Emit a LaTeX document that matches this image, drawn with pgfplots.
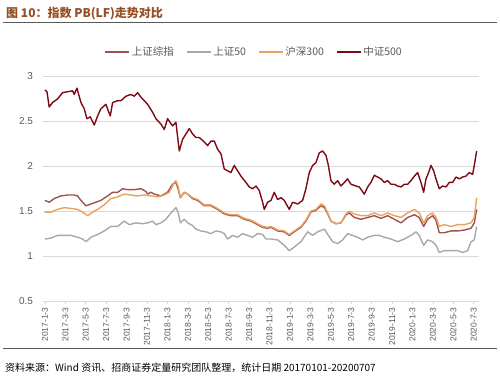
\documentclass[border=0pt]{standalone}
\usepackage{pgfplots}
\pgfplotsset{compat=1.18}
\usepackage{pgfplotstable}
\usepackage{fontspec}
\setmainfont{Liberation Sans}
\newfontfamily\cjk{Noto Sans CJK SC}
\definecolor{szzz}{RGB}{158,82,78}
\definecolor{sz50}{RGB}{168,168,168}
\definecolor{hs300}{RGB}{232,162,92}
\definecolor{zz500}{RGB}{125,10,22}
\definecolor{titlecol}{RGB}{150,78,35}
\definecolor{gridc}{RGB}{217,217,217}
\definecolor{tickc}{RGB}{89,89,89}

\pgfplotstableread{
m v
0 2.85
0.20 2.83
0.42 2.66
0.75 2.71
1.24 2.75
1.73 2.82
2.22 2.83
2.71 2.84
2.87 2.80
3.13 2.87
3.53 2.71
3.85 2.64
4.11 2.53
4.44 2.55
4.83 2.46
5.16 2.56
5.48 2.64
5.97 2.69
6.40 2.56
6.63 2.71
7.12 2.73
7.44 2.73
7.93 2.78
8.42 2.80
8.75 2.78
9.08 2.82
9.40 2.77
9.73 2.73
10.06 2.69
10.55 2.60
10.87 2.53
11.36 2.47
11.69 2.41
12.01 2.53
12.50 2.45
12.83 2.49
13.16 2.17
13.48 2.30
13.81 2.36
14.14 2.42
14.46 2.36
14.79 2.32
15.12 2.32
15.61 2.27
15.93 2.23
16.26 2.28
16.59 2.28
16.91 2.19
17.24 2.14
17.56 1.97
17.89 1.95
18.22 1.93
18.54 2.01
18.87 1.95
19.20 1.89
19.69 1.82
20.01 1.77
20.34 1.75
20.67 1.78
20.99 1.73
21.32 1.60
21.48 1.52
21.81 1.60
22.14 1.62
22.46 1.71
22.79 1.63
23.12 1.65
23.44 1.62
23.93 1.52
24.26 1.60
24.75 1.58
25.24 1.62
25.56 1.75
25.89 1.93
26.22 2.01
26.54 2.04
26.87 2.15
27.20 2.17
27.53 2.12
27.76 2.01
28.01 1.84
28.34 1.80
28.67 1.84
28.99 1.78
29.32 1.82
29.64 1.86
29.97 1.80
30.46 1.78
30.79 1.77
31.28 1.69
31.61 1.77
31.93 1.82
32.26 1.90
32.58 1.88
32.91 1.86
33.24 1.82
33.56 1.84
33.89 1.80
34.22 1.80
34.54 1.78
34.87 1.77
35.20 1.80
35.52 1.80
35.85 1.84
36.18 1.89
36.50 1.93
36.83 1.82
37.09 1.71
37.32 1.86
37.58 1.93
37.81 2.01
38.07 1.95
38.30 1.86
38.62 1.75
38.95 1.78
39.28 1.77
39.60 1.82
39.93 1.82
40.26 1.88
40.59 1.86
40.91 1.88
41.23 1.89
41.56 1.93
41.89 1.91
42.05 2.01
42.28 2.17
}\zzfive

\pgfplotstableread{
m v
0 1.62
0.42 1.60
0.91 1.64
1.57 1.67
2.22 1.68
2.87 1.68
3.20 1.67
3.53 1.62
4.02 1.56
4.51 1.58
5.00 1.60
5.48 1.62
6.14 1.67
6.63 1.71
7.12 1.71
7.61 1.75
8.10 1.74
8.75 1.74
9.40 1.75
9.89 1.72
10.06 1.69
10.38 1.71
10.71 1.69
11.36 1.67
12.01 1.71
12.50 1.80
12.83 1.82
13.06 1.74
13.26 1.65
13.65 1.71
13.97 1.69
14.46 1.64
14.95 1.62
15.61 1.56
16.26 1.56
16.91 1.52
17.56 1.47
18.22 1.45
18.87 1.45
19.52 1.41
20.18 1.39
20.83 1.35
21.32 1.32
21.81 1.31
22.14 1.32
22.79 1.28
23.44 1.27
23.93 1.23
24.42 1.27
25.07 1.32
25.56 1.39
26.05 1.49
26.54 1.51
27.04 1.56
27.37 1.54
27.70 1.47
28.01 1.39
28.50 1.36
28.99 1.37
29.49 1.46
29.81 1.48
30.30 1.43
30.95 1.41
31.61 1.43
32.26 1.45
32.91 1.42
33.56 1.45
34.22 1.41
34.87 1.37
35.52 1.43
36.18 1.46
36.66 1.43
37.09 1.33
37.48 1.41
37.97 1.45
38.30 1.40
38.62 1.26
39.11 1.26
39.77 1.28
40.42 1.28
41.08 1.29
41.73 1.31
42.05 1.37
42.28 1.52
}\szzz

\pgfplotstableread{
m v
0 1.49
0.59 1.49
1.24 1.52
1.89 1.54
2.55 1.53
3.20 1.52
3.69 1.49
4.18 1.45
4.67 1.49
5.16 1.52
5.81 1.57
6.46 1.64
7.12 1.66
7.77 1.69
8.42 1.68
9.08 1.67
9.73 1.68
10.38 1.67
11.03 1.66
11.69 1.68
12.18 1.71
12.67 1.82
12.83 1.84
13.06 1.77
13.26 1.65
13.65 1.71
13.97 1.69
14.46 1.65
14.95 1.63
15.61 1.57
16.26 1.57
16.91 1.53
17.56 1.48
18.22 1.46
18.87 1.46
19.52 1.42
20.18 1.40
20.83 1.36
21.32 1.33
21.81 1.32
22.14 1.33
22.79 1.29
23.44 1.28
23.93 1.24
24.42 1.28
25.07 1.33
25.56 1.40
26.05 1.50
26.54 1.52
27.04 1.58
27.37 1.56
27.70 1.48
28.01 1.39
28.50 1.36
28.99 1.37
29.49 1.47
29.81 1.50
30.30 1.47
30.95 1.45
31.61 1.45
32.26 1.48
32.91 1.45
33.56 1.48
34.22 1.45
34.87 1.43
35.52 1.48
36.18 1.52
36.66 1.48
37.09 1.37
37.48 1.45
37.97 1.48
38.30 1.43
38.62 1.33
39.11 1.35
39.77 1.33
40.42 1.35
41.08 1.35
41.73 1.37
42.05 1.43
42.28 1.65
}\hsthree

\pgfplotstableread{
m v
0 1.19
0.59 1.20
1.24 1.23
1.89 1.23
2.55 1.23
3.20 1.21
3.69 1.19
4.02 1.16
4.51 1.21
5.16 1.24
5.81 1.28
6.46 1.33
7.12 1.33
7.77 1.39
8.26 1.35
8.91 1.37
9.57 1.36
10.06 1.37
10.55 1.39
10.87 1.35
11.36 1.37
11.85 1.41
12.34 1.48
12.83 1.54
13.06 1.48
13.26 1.37
13.65 1.41
13.97 1.37
14.46 1.34
14.79 1.30
15.28 1.28
15.77 1.27
16.26 1.25
16.75 1.28
17.24 1.27
17.56 1.25
17.89 1.19
18.38 1.23
18.87 1.21
19.36 1.25
19.85 1.23
20.34 1.21
20.83 1.25
21.32 1.24
21.65 1.19
22.14 1.19
22.79 1.18
23.44 1.12
23.93 1.06
24.42 1.10
25.07 1.16
25.73 1.27
26.22 1.23
26.71 1.27
27.37 1.30
27.76 1.23
28.18 1.16
28.67 1.14
29.16 1.18
29.64 1.25
30.13 1.23
30.62 1.21
31.11 1.18
31.61 1.21
32.26 1.23
32.75 1.23
33.24 1.21
33.89 1.19
34.54 1.16
35.20 1.19
35.85 1.23
36.34 1.27
36.66 1.23
37.09 1.12
37.48 1.18
37.97 1.16
38.30 1.12
38.62 1.04
39.11 1.06
39.77 1.06
40.42 1.06
40.91 1.04
41.40 1.06
41.73 1.16
42.05 1.18
42.28 1.33
}\szfifty

\begin{document}
\begin{tikzpicture}[x=1pt,y=1pt]
\path[use as bounding box] (0,0) rectangle (500,380);
\node[anchor=west, text=titlecol, font=\cjk\bfseries\fontsize{12}{14}\selectfont, inner sep=0pt] at (6,366) {图 10：指数 PB(LF)走势对比};
\draw[color=black!65, line width=1pt] (3,357) -- (497,357);
\draw[color=black!65, line width=0.8pt] (3,32) -- (497,32);
\node[anchor=west, font=\cjk\fontsize{10}{12}\selectfont, inner sep=0pt] at (5,12) {资料来源：Wind 资讯、招商证券定量研究团队整理，统计日期 20170101-20200707};
\begin{axis}[
  at={(41.7,88)}, anchor=south west,
  width=436.3pt, height=224.5pt, scale only axis,
  xmin=-0.23, xmax=42.5, ymin=0.5, ymax=3,
  ytick={0.5,1,1.5,2,2.5,3},
  yticklabels={0.5,1,1.5,2,2.5,3},
  xtick={0,2,...,42},
  xticklabels={2017-1-3,2017-3-3,2017-5-3,2017-7-3,2017-9-3,2017-11-3,2018-1-3,2018-3-3,2018-5-3,2018-7-3,2018-9-3,2018-11-3,2019-1-3,2019-3-3,2019-5-3,2019-7-3,2019-9-3,2019-11-3,2020-1-3,2020-3-3,2020-5-3,2020-7-3},
  x tick label style={rotate=90, anchor=east, font=\fontsize{8.5}{10}\selectfont, text=tickc},
  y tick label style={font=\fontsize{10}{12}\selectfont, text=tickc, xshift=-3pt},
  ymajorgrids, major grid style={gridc, line width=0.8pt},
  axis x line*=bottom, axis y line*=left,
  x axis line style={gridc, line width=0.8pt, -},
  y axis line style={draw=none},
  xtick style={gridc, line width=0.6pt},
  ytick style={draw=none},
  tick align=outside, major tick length=3pt,
  /pgf/number format/assume math mode=true,
  legend style={at={(0.485,1)}, anchor=south, yshift=15pt, draw=none, fill=none,
    font=\cjk\fontsize{10.5}{12}\selectfont, text=tickc,
    /tikz/every even column/.append style={column sep=10pt}},
  legend columns=4,
  legend image code/.code={\draw[#1] (0pt,0pt) -- (24pt,0pt);},
  every axis plot/.append style={line width=1.4pt, line join=round},
]
\addplot[szzz] table[x=m,y=v] {\szzz};
\addplot[sz50] table[x=m,y=v] {\szfifty};
\addplot[hs300] table[x=m,y=v] {\hsthree};
\addplot[zz500] table[x=m,y=v] {\zzfive};
\legend{上证综指,上证50,沪深300,中证500}
\end{axis}
\end{tikzpicture}
\end{document}
